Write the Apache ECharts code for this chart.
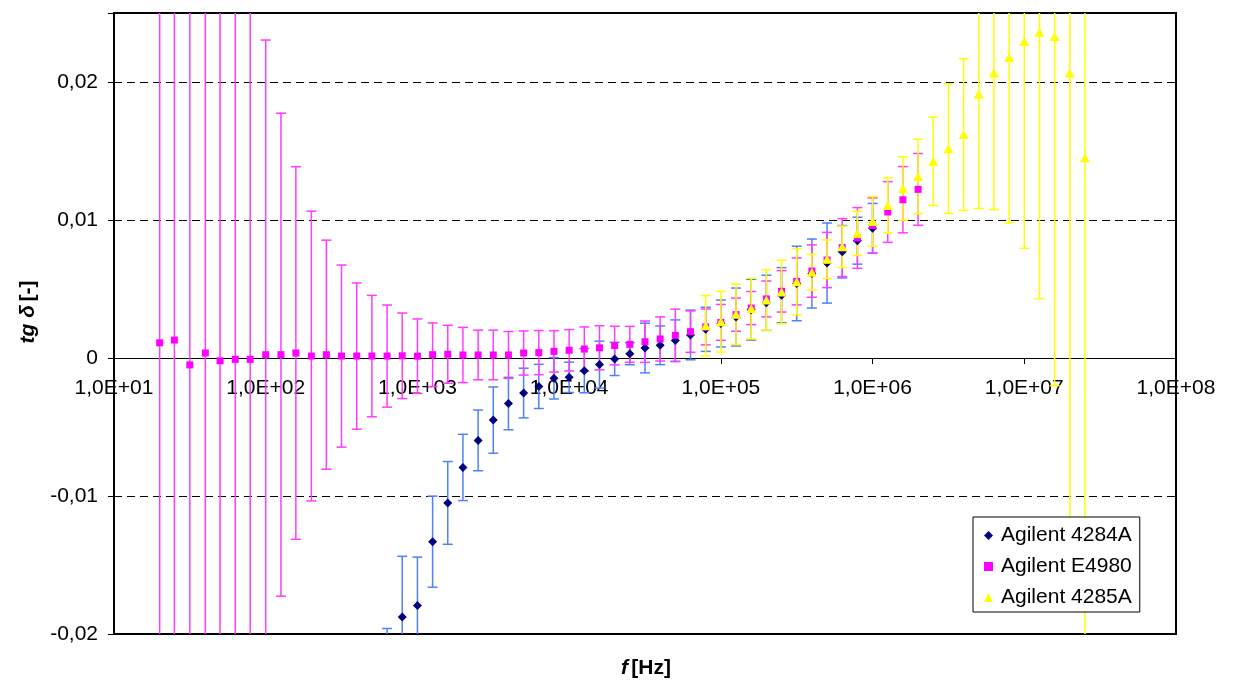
<!DOCTYPE html>
<html>
<head>
<meta charset="utf-8">
<script src="https://cdn.jsdelivr.net/npm/echarts@6/dist/echarts.min.js"></script>
<style>
html,body{margin:0;padding:0;background:#fff;}
#chart{width:1233px;height:683px;}
</style>
</head>
<body>
<div id="chart"></div>
<script>
// ---------- DATA ----------
const freqHz = [20, 25, 31.6, 40, 50, 63, 79,
  100, 126, 158, 200, 251, 316, 398, 501, 631, 794,
  1000, 1259, 1585, 1995, 2512, 3162, 3981, 5012, 6310, 7943,
  10000, 12589, 15849, 19953, 25119, 31623, 39811, 50119, 63096, 79433,
  100000, 125893, 158489, 199526, 251189, 316228, 398107, 501187, 630957, 794328,
  1000000, 1258925, 1584893, 1995262, 2511886, 3162278, 3981072, 5011872, 6309573, 7943282,
  10000000, 12589254, 15848932, 19952623, 25118864];

const seriesNames = ['Agilent 4284A', 'Agilent E4980', 'Agilent 4285A'];

// Agilent 4284A (tg delta, error)
const tg4284A = [null, null, null, null, null, null, null, null, null, null, null, null, null, null, null,
  -0.0241, -0.01877, -0.01793, -0.01331, -0.0105, -0.00793, -0.00597, -0.0045, -0.0033, -0.00254,
  -0.00206, -0.00147, -0.0014, -0.00092, -0.00048, -0.00007, 0.00031, 0.00072, 0.00092, 0.00126,
  0.00167, 0.00208, 0.0025, 0.00297, 0.0035, 0.004, 0.00455, 0.0054, 0.00612, 0.00688,
  0.0077, 0.0085, 0.0094,
  null, null, null, null, null, null, null, null, null, null, null, null, null, null];
const err4284A = [null, null, null, null, null, null, null, null, null, null, null, null, null, null, null,
  0.0045, 0.0044, 0.0035, 0.0033, 0.003, 0.0024, 0.0022, 0.0024, 0.0019, 0.0018,
  0.0016, 0.0015, 0.0011, 0.0016, 0.0017, 0.0012, 0.0008, 0.0018, 0.0014, 0.0015,
  0.0018, 0.0016, 0.0017, 0.0021, 0.0022, 0.002, 0.002, 0.0027, 0.0025, 0.0029,
  0.0019, 0.0017, 0.0018,
  null, null, null, null, null, null, null, null, null, null, null, null, null, null];

// Agilent E4980
const tgE4980 = [0.0011, 0.0013, -0.0005, 0.00036, -0.0002, -0.0001, -0.0001,
  0.00024, 0.00024, 0.00036, 0.00014, 0.00024, 0.00014, 0.00014, 0.00014, 0.00014, 0.00016,
  0.00013, 0.00024, 0.00027, 0.00022, 0.00022, 0.00022, 0.00022, 0.00036, 0.00039, 0.00048,
  0.00056, 0.00065, 0.00074, 0.0009, 0.00099, 0.00118, 0.00138, 0.00164, 0.00191, 0.00225,
  0.00258, 0.00314, 0.00362, 0.00428, 0.00483, 0.00555, 0.0063, 0.0071, 0.008, 0.0087,
  0.0096, 0.01058, 0.01147, 0.01222,
  null, null, null, null, null, null, null, null, null, null, null];
const errE4980 = [0.14, 0.11, 0.085, 0.065, 0.05, 0.0385, 0.0296,
  0.0228, 0.0175, 0.0135, 0.0105, 0.0083, 0.0066, 0.0053, 0.0044, 0.0037, 0.0031,
  0.0027, 0.0023, 0.0021, 0.002, 0.0018, 0.0018, 0.0017, 0.0016, 0.0016, 0.0015,
  0.0015, 0.0016, 0.0016, 0.0014, 0.0013, 0.0015, 0.0016, 0.0019, 0.0015, 0.0013,
  0.0013, 0.0012, 0.0012, 0.0013, 0.0015, 0.0017, 0.0019, 0.002, 0.0021, 0.0022,
  0.002, 0.0022, 0.0024, 0.0026,
  null, null, null, null, null, null, null, null, null, null, null];

// Agilent 4285A
const tg4285A = [null, null, null, null, null, null, null, null, null, null, null, null,
  null, null, null, null, null, null, null, null, null, null, null, null,
  null, null, null, null, null, null, null, null, null, null, null, null,
  0.00233, 0.00263, 0.00317, 0.00358, 0.0042, 0.00478, 0.00553, 0.00622, 0.00716, 0.00806,
  0.00903, 0.0099, 0.01105, 0.01228, 0.01315, 0.01425, 0.01517, 0.0162, 0.01913, 0.02065,
  0.02178, 0.02294, 0.0236, 0.0233, 0.02065, 0.01451];
const err4285A = [null, null, null, null, null, null, null, null, null, null, null, null,
  null, null, null, null, null, null, null, null, null, null, null, null,
  null, null, null, null, null, null, null, null, null, null, null, null,
  0.0022, 0.0022, 0.0022, 0.0022, 0.0022, 0.0023, 0.0024, 0.0013, 0.0014, 0.0015,
  0.0016, 0.0018, 0.002, 0.0023, 0.0027, 0.0032, 0.0047, 0.0055, 0.0083, 0.0099,
  0.012, 0.015, 0.0193, 0.0253, 0.035, 0.045];

const yTickValues = [-0.02, -0.01, 0, 0.01, 0.02];
const yMin = -0.02, yMax = 0.025;

// ---------- BUILD ----------
function points(vals) {
  const out = [];
  vals.forEach((v, i) => { if (v !== null) out.push([freqHz[i], v]); });
  return out;
}
function bars(vals, errs) {
  const out = [];
  vals.forEach((v, i) => { if (v !== null) out.push([freqHz[i], v - errs[i], v + errs[i]]); });
  return out;
}
function errRenderer(color) {
  return function (params, api) {
    const f = api.value(0), lo = api.value(1), hi = api.value(2);
    const pTop = api.coord([f, hi]);
    const pBot = api.coord([f, lo]);
    const cs = params.coordSys;
    const top = cs.y, bottom = cs.y + cs.height;
    const x = pTop[0];
    const y1 = Math.max(pTop[1], top), y2 = Math.min(pBot[1], bottom);
    const st = { stroke: color, lineWidth: 1.5 };
    const ch = [];
    if (y2 > y1) ch.push({ type: 'line', shape: { x1: x, y1: y1, x2: x, y2: y2 }, style: st });
    if (pTop[1] >= top && pTop[1] <= bottom) ch.push({ type: 'line', shape: { x1: x - 5, y1: pTop[1], x2: x + 5, y2: pTop[1] }, style: st });
    if (pBot[1] <= bottom && pBot[1] >= top) ch.push({ type: 'line', shape: { x1: x - 5, y1: pBot[1], x2: x + 5, y2: pBot[1] }, style: st });
    return { type: 'group', children: ch };
  };
}

const FONT = "'Liberation Sans', Arial, sans-serif";
const GRID = { left: 114, right: 57, top: 13, bottom: 49 };
const plotH = 683 - GRID.top - GRID.bottom;
// move the x axis (line, ticks, labels) up to the y = 0 level
const zeroOffset = -plotH * (0 - yMin) / (yMax - yMin);

const chart = echarts.init(document.getElementById('chart'), null, { renderer: 'canvas' });

const option = {
  animation: false,
  backgroundColor: '#fff',
  grid: {
    left: GRID.left, right: GRID.right, top: GRID.top, bottom: GRID.bottom,
    show: true, borderColor: '#000', borderWidth: 2, backgroundColor: 'transparent',
    outerBoundsMode: 'none', containLabel: false
  },
  xAxis: {
    type: 'log', logBase: 10, min: 10, max: 100000000, splitNumber: 7,
    position: 'bottom', offset: zeroOffset,
    axisLine: { show: true, onZero: false, lineStyle: { color: '#000', width: 1 } },
    axisTick: { show: true, inside: false, length: 6, lineStyle: { color: '#000', width: 1 } },
    minorTick: { show: false },
    splitLine: { show: false },
    axisLabel: {
      color: '#000', fontSize: 21, fontFamily: FONT, margin: 20,
      formatter: function (v) {
        const e = Math.round(Math.log10(v));
        return '1,0E+' + (e < 10 ? '0' : '') + e;
      }
    }
  },
  yAxis: {
    type: 'value', min: yMin, max: yMax, interval: 0.01,
    axisLine: { show: true, onZero: false, lineStyle: { color: '#000', width: 2 } },
    axisTick: { show: true, inside: false, length: 6, lineStyle: { color: '#000', width: 1 } },
    splitLine: { show: true, lineStyle: { color: '#000', width: 1, type: [8, 5] } },
    axisLabel: {
      color: '#000', fontSize: 21, fontFamily: FONT, margin: 16,
      formatter: function (v) {
        const m = yTickValues.find(t => Math.abs(t - v) < 1e-9);
        if (m === undefined) return '';
        if (m === 0) return '0';
        return m.toFixed(2).replace('.', ',');
      }
    }
  },
  legend: {
    orient: 'vertical', left: 973, top: 517,
    data: seriesNames,
    itemWidth: 9, itemHeight: 9, itemGap: 8,
    padding: [7, 8, 3, 11],
    backgroundColor: '#fff', borderColor: '#000', borderWidth: 1, borderRadius: 0,
    textStyle: { color: '#000', fontSize: 21, fontFamily: FONT, lineHeight: 23, padding: [0, 0, 0, 3] }
  },
  graphic: [
    {
      type: 'text', x: 646, y: 668, z: 10,
      style: {
        text: '{i|f} {b|[Hz]}', align: 'center', verticalAlign: 'middle',
        rich: {
          i: { fontStyle: 'italic', fontWeight: 'bold', fontSize: 21, fontFamily: FONT, fill: '#000' },
          b: { fontWeight: 'bold', fontSize: 21, fontFamily: FONT, fill: '#000' }
        }
      }
    },
    {
      type: 'text', x: 28, y: 312, rotation: Math.PI / 2, z: 10,
      style: {
        text: '{i|tg δ} {b|[-]}', align: 'center', verticalAlign: 'middle',
        rich: {
          i: { fontStyle: 'italic', fontWeight: 'bold', fontSize: 21, fontFamily: FONT, fill: '#000' },
          b: { fontWeight: 'bold', fontSize: 21, fontFamily: FONT, fill: '#000' }
        }
      }
    }
  ],
  series: [
    { name: 'err4284A', type: 'custom', renderItem: errRenderer('#4F81FF'), data: bars(tg4284A, err4284A), encode: { x: 0, y: [1, 2] }, silent: true, clip: true },
    { name: seriesNames[0], type: 'scatter', symbol: 'diamond', symbolSize: 9, data: points(tg4284A), itemStyle: { color: '#000080', opacity: 1 }, clip: true },
    { name: 'errE4980', type: 'custom', renderItem: errRenderer('#FF3CFF'), data: bars(tgE4980, errE4980), encode: { x: 0, y: [1, 2] }, silent: true, clip: true },
    { name: seriesNames[1], type: 'scatter', symbol: 'rect', symbolSize: 7, data: points(tgE4980), itemStyle: { color: '#FF00FF', opacity: 1 }, clip: true },
    { name: 'err4285A', type: 'custom', renderItem: errRenderer('#FFFF00'), data: bars(tg4285A, err4285A), encode: { x: 0, y: [1, 2] }, silent: true, clip: true },
    { name: seriesNames[2], type: 'scatter', symbol: 'triangle', symbolSize: [10, 9], data: points(tg4285A), itemStyle: { color: '#FFFF00', opacity: 1 }, clip: true }
  ]
};
chart.setOption(option);
</script>
</body>
</html>
